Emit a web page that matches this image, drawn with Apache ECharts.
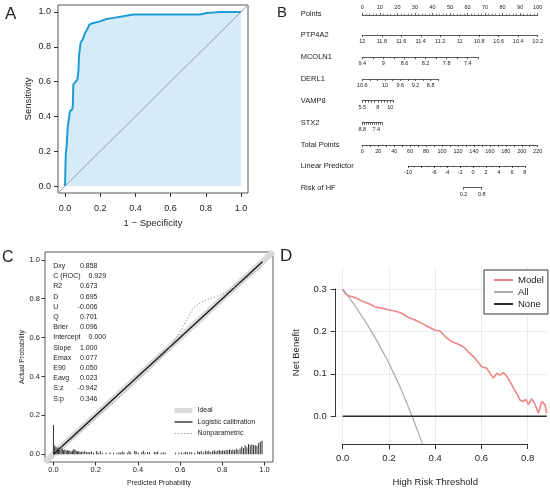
<!DOCTYPE html>
<html>
<head>
<meta charset="utf-8">
<script src="https://cdn.jsdelivr.net/npm/echarts@6/dist/echarts.min.js"></script>
<style>
html, body { margin: 0; padding: 0; background: #fff; }
#main { width: 550px; height: 490px; }
</style>
</head>
<body>
<div id="main"></div>
<script>
// ---------- A: ROC curve ----------
var rocFpr = [0, 0.004, 0.009, 0.015, 0.025, 0.028, 0.040, 0.044, 0.047, 0.057, 0.070, 0.076, 0.080, 0.085, 0.089, 0.100,
              0.114, 0.127, 0.138, 0.161, 0.199, 0.237, 0.275, 0.331, 0.388, 0.767, 0.805, 0.881, 1.0];
var rocTpr = [0, 0.182, 0.229, 0.335, 0.335, 0.430, 0.440, 0.459, 0.583, 0.593, 0.612, 0.660, 0.755, 0.765, 0.826, 0.841,
              0.880, 0.902, 0.927, 0.937, 0.946, 0.960, 0.966, 0.975, 0.985, 0.985, 0.994, 1.0, 1.0];
var rocDiag = [-0.04, 1.04];
var aucText = 'AUC=0.929 (95% CI: 0.900\u22120.958)';

// ---------- B: nomogram ----------
var nomoNames = ['Points', 'PTP4A2', 'MCOLN1', 'DERL1', 'VAMP8', 'STX2', 'Total Points', 'Linear Predictor', 'Risk of HF'];
var nomoFrom = [0, 12, 9.4, 10.6, 5.5, 8.8, 0, -10, 0.2];      // value at left end
var nomoTo = [100, 10.2, 7.2, 8.6, 10.5, 6.8, 220, 8, 0.8];     // value at right end
var nomoStep = [10, 0.2, 0.2, 0.2, 0.5, 0.2, 10, 2, null];
var nomoMinor = [5, 1, 1, 1, 1, 1, 2, 2, 1];
var nomoLabels = [
    [0, 10, 20, 30, 40, 50, 60, 70, 80, 90, 100],
    [12, 11.8, 11.6, 11.4, 11.2, 11, 10.8, 10.6, 10.4, 10.2],
    [9.4, 9, 8.6, 8.2, 7.8, 7.4],
    [10.6, 10, 9.6, 9.2, 8.8],
    [5.5, 8, 10],
    [8.8, 7.4],
    [0, 20, 40, 60, 80, 100, 120, 140, 160, 180, 200, 220],
    [-10, -6, -4, -2, 0, 2, 4, 6, 8],
    [0.2, 0.8]
];
// where each scale starts / ends on the 0-100 Points scale
var nomoStartPts = [0, 0, 0, 0, 0, 0, 0, 26.2, 57.7];
var nomoEndPts = [100, 100, 66.1, 43.3, 17.7, 11.4, 100, 92.7, 68.1];

// ---------- C: calibration ----------
var calStatNames = ['Dxy', 'C (ROC)', 'R2', 'D', 'U', 'Q', 'Brier', 'Intercept', 'Slope', 'Emax', 'E90', 'Eavg', 'S:z', 'S:p'];
var calStatValues = ['0.858', '0.929', '0.673', '0.695', '-0.006', '0.701', '0.096', '0.000', '1.000', '0.077', '0.050', '0.023', '-0.942', '0.346'];
var idealLine = [-0.04, 1.04];
var logitX = [0, 0.99];
var logitY = [0, 0.99];
var npX = [0.01, 0.05, 0.10, 0.15, 0.20, 0.25, 0.30, 0.35, 0.40, 0.45, 0.50, 0.54, 0.58, 0.62, 0.66, 0.70, 0.74, 0.78, 0.82, 0.86, 0.90, 0.94, 0.97, 0.99];
var npY = [0.015, 0.045, 0.090, 0.138, 0.185, 0.233, 0.280, 0.330, 0.380, 0.432, 0.488, 0.535, 0.595, 0.668, 0.750, 0.782, 0.800, 0.815, 0.835, 0.860, 0.893, 0.925, 0.950, 0.966];
var riskX = [0.000, 0.006, 0.012, 0.018, 0.024, 0.030, 0.036, 0.042, 0.048, 0.054, 0.060, 0.066, 0.072, 0.078, 0.084, 0.090,
             0.096, 0.102, 0.108, 0.114, 0.120, 0.126, 0.132, 0.140, 0.148, 0.156, 0.164, 0.172, 0.180, 0.190,
             0.205, 0.212, 0.222, 0.232, 0.250, 0.268, 0.285, 0.300, 0.310, 0.318, 0.326, 0.334, 0.350, 0.358, 0.366,
             0.385, 0.392, 0.402, 0.418, 0.426, 0.434, 0.446, 0.455, 0.478, 0.486, 0.494, 0.510, 0.520, 0.530,
             0.578, 0.594, 0.606, 0.618, 0.626, 0.634, 0.646, 0.655, 0.670, 0.684, 0.692, 0.700, 0.710, 0.720, 0.728,
             0.736, 0.745, 0.754, 0.762, 0.770, 0.778, 0.786, 0.794, 0.802, 0.810, 0.818, 0.826, 0.834, 0.842, 0.850,
             0.858, 0.866, 0.874, 0.884, 0.892, 0.900, 0.908, 0.916, 0.924, 0.932, 0.940, 0.948, 0.956, 0.964, 0.972,
             0.980, 0.988];
var riskH = [0.150, 0.045, 0.038, 0.030, 0.034, 0.022, 0.026, 0.030, 0.020, 0.024, 0.018, 0.022, 0.016, 0.020, 0.014, 0.018,
             0.026, 0.024, 0.018, 0.014, 0.016, 0.012, 0.014, 0.012, 0.016, 0.010, 0.012, 0.010, 0.014, 0.008,
             0.016, 0.008, 0.016, 0.008, 0.008, 0.010, 0.008, 0.006, 0.010, 0.008, 0.014, 0.010, 0.008, 0.016, 0.010,
             0.018, 0.014, 0.008, 0.010, 0.018, 0.008, 0.012, 0.010, 0.012, 0.010, 0.014, 0.008, 0.010, 0.008,
             0.008, 0.008, 0.010, 0.008, 0.012, 0.010, 0.012, 0.010, 0.008, 0.016, 0.012, 0.016, 0.010, 0.018, 0.014,
             0.018, 0.012, 0.016, 0.020, 0.014, 0.018, 0.022, 0.016, 0.020, 0.018, 0.022, 0.020, 0.026, 0.020, 0.024,
             0.020, 0.028, 0.024, 0.030, 0.040, 0.032, 0.046, 0.036, 0.052, 0.046, 0.050, 0.048, 0.046, 0.044, 0.058,
             0.064, 0.070];

// ---------- D: decision curve ----------
var dcaX = [0, 0.010, 0.025, 0.053, 0.082, 0.111, 0.140, 0.169, 0.197, 0.226, 0.255, 0.284, 0.313, 0.342, 0.370, 0.399,
            0.421, 0.443, 0.471, 0.500, 0.522, 0.543, 0.572, 0.601, 0.623, 0.637, 0.652, 0.666, 0.680, 0.695, 0.709,
            0.731, 0.752, 0.767, 0.781, 0.791, 0.803, 0.817, 0.832, 0.846, 0.861, 0.875, 0.882];
var dcaModel = [0.300, 0.290, 0.284, 0.280, 0.272, 0.266, 0.258, 0.255, 0.251, 0.248, 0.243, 0.233, 0.227, 0.219, 0.211, 0.203,
                0.201, 0.188, 0.176, 0.170, 0.164, 0.152, 0.137, 0.117, 0.113, 0.101, 0.090, 0.101, 0.097, 0.103, 0.095,
                0.074, 0.054, 0.038, 0.035, 0.040, 0.028, 0.041, 0.028, 0.007, 0.035, 0.027, 0.007];
var allX = [0, 0.05, 0.10, 0.15, 0.20, 0.25, 0.30, 0.345];
var allY = [0.300, 0.263, 0.222, 0.176, 0.125, 0.067, 0.000, -0.065];
var noneX = [0, 0.882];
var noneY = [0, 0];

var FONT = '"Liberation Sans", Arial, Helvetica, sans-serif';
var INK = '#222';
var DOTS = [1.2, 2];

var grids = [], xAxes = [], yAxes = [], series = [], texts = [];

function zip(a, b) {
    var out = [];
    for (var i = 0; i < a.length; i++) out.push([a[i], b[i]]);
    return out;
}
function fmt1(v) { return v.toFixed(1); }
function hidden(min, max) { return {type: 'value', show: false, min: min, max: max}; }
function addGrid(g, x, y) {
    var i = grids.length;
    g.outerBoundsMode = 'none';
    grids.push(g);
    x.gridIndex = i; y.gridIndex = i;
    xAxes.push(x); yAxes.push(y);
    return i;
}
function tickAxis(o) {
    // a visible axis in R style: ticks outward, plain labels
    var a = {
        type: 'value', min: o.min, max: o.max, interval: o.interval, position: o.position,
        axisLine: {show: !!o.line, lineStyle: {color: '#333', width: 1}},
        axisTick: {show: true, length: o.tick, lineStyle: {color: '#333', width: 1}},
        axisLabel: {show: true, margin: o.margin, fontSize: o.fontSize, color: INK, fontFamily: FONT, formatter: fmt1},
        splitLine: {show: !!o.split, lineStyle: {color: '#ebebeb', width: 1}}
    };
    if (o.name) {
        a.name = o.name; a.nameLocation = 'middle'; a.nameGap = o.nameGap;
        a.nameTextStyle = {fontSize: o.nameSize, color: INK, fontFamily: FONT};
        if (o.position === 'left') a.nameRotate = 90;
    }
    return a;
}
function text(x, y, s, size, align) {
    texts.push({type: 'text', x: x, y: y, silent: true,
        style: {text: s, fontSize: size, fontFamily: FONT, fill: INK, align: align || 'left', verticalAlign: 'middle'}});
}
function lineSeries(name, grid, data, color, width, type, z) {
    return {name: name, type: 'line', xAxisIndex: grid, yAxisIndex: grid, data: data,
        symbol: 'none', showSymbol: false, color: color,
        lineStyle: {color: color, width: width, type: type || 'solid'}, z: z};
}

// ===== Panel A =====
var gA = addGrid({left: 58, top: 5, width: 190, height: 188, show: true, borderColor: '#555', borderWidth: 1},
    hidden(-0.04, 1.04), hidden(-0.04, 1.04));
addGrid({left: 65.04, top: 192, width: 175.93, height: 1},
    tickAxis({min: 0, max: 1, interval: 0.2, position: 'bottom', tick: 4, margin: 11, fontSize: 9,
        name: '1 \u2212 Specificity', nameGap: 25, nameSize: 9.5}), hidden(0, 1));
addGrid({left: 58, top: 11.96, width: 1, height: 174.07},
    hidden(0, 1),
    tickAxis({min: 0, max: 1, interval: 0.2, position: 'left', tick: 4, margin: 7, fontSize: 9,
        name: 'Sensitivity', nameGap: 25, nameSize: 9.5}));
var roc = lineSeries('ROC', gA, zip(rocFpr, rocTpr), '#1f9bd7', 2, 'solid', 2);
roc.areaStyle = {color: '#d6ebf8', opacity: 1};
series.push(roc);
series.push(lineSeries('Reference', gA, zip(rocDiag, rocDiag), '#9a9a9a', 1, 'solid', 3));
text(232, 179, aucText, 8.5, 'right');
text(5, 14, 'A', 17);

// ===== Panel B =====
var NOMO_X0 = 362.3, NOMO_PX = 1.754;
var nomoRowY = [14, 35, 57.3, 79, 100.7, 122.7, 145, 166, 187.7];
for (var i = 0; i < nomoNames.length; i++) {
    var ax = {
        type: 'value', min: Math.min(nomoFrom[i], nomoTo[i]), max: Math.max(nomoFrom[i], nomoTo[i]),
        inverse: nomoFrom[i] > nomoTo[i], position: i === 0 ? 'top' : 'bottom',
        axisLine: {show: true, lineStyle: {color: '#333', width: 0.8}},
        axisTick: {show: true, length: 2, lineStyle: {color: '#333', width: 0.8}},
        axisLabel: {show: true, customValues: nomoLabels[i], margin: 3.5, fontSize: 5.5, color: INK, fontFamily: FONT},
        splitLine: {show: false}
    };
    if (nomoStep[i]) {
        ax.interval = nomoStep[i];
        if (nomoMinor[i] > 1) {
            ax.minorTick = {show: true, splitNumber: nomoMinor[i], length: 1.3, lineStyle: {color: '#333', width: 0.6}};
        }
    } else {
        ax.axisTick.customValues = nomoLabels[i];
    }
    addGrid({
        left: NOMO_X0 + nomoStartPts[i] * NOMO_PX,
        width: (nomoEndPts[i] - nomoStartPts[i]) * NOMO_PX,
        top: i === 0 ? nomoRowY[i] : nomoRowY[i] - 1, height: 1
    }, ax, hidden(0, 1));
    text(300.7, nomoRowY[i], nomoNames[i], 7.5);
}
text(277, 13, 'B', 15);

// ===== Panel C =====
var gC = addGrid({left: 45, top: 252, width: 228, height: 210, show: true, borderColor: '#333', borderWidth: 0.8},
    hidden(-0.04, 1.04), hidden(-0.04, 1.04));
addGrid({left: 53.44, top: 461, width: 211.1, height: 1},
    tickAxis({min: 0, max: 1, interval: 0.2, position: 'bottom', tick: 3.5, margin: 4, fontSize: 7.5,
        name: 'Predicted Probability', nameGap: 18, nameSize: 7}), hidden(0, 1));
addGrid({left: 45, top: 259.78, width: 1, height: 194.44},
    hidden(0, 1),
    tickAxis({min: 0, max: 1, interval: 0.2, position: 'left', tick: 3.5, margin: 5, fontSize: 7.5,
        name: 'Actual Probability', nameGap: 19, nameSize: 7}));
series.push(lineSeries('Ideal', gC, zip(idealLine, idealLine), '#d9d9d9', 6, 'solid', 1));
series.push({type: 'bar', xAxisIndex: gC, yAxisIndex: gC, data: zip(riskX, riskH), barWidth: 1,
    itemStyle: {color: '#333'}, z: 2});
series.push(lineSeries('Logistic calibration', gC, zip(logitX, logitY), '#111111', 1.2, 'solid', 3));
series.push(lineSeries('Nonparametric', gC, zip(npX, npY), '#888888', 1, DOTS, 3));

// stats block, values placed after their label like R's padded text
var ctx = document.createElement('canvas').getContext('2d');
ctx.font = '7px ' + FONT;
for (var s = 0; s < calStatNames.length; s++) {
    var yS = 266 + s * 10.2;
    var right = Math.max(97.5, 53.3 + ctx.measureText(calStatNames[s]).width + 8 + ctx.measureText(calStatValues[s]).width);
    text(53.3, yS, calStatNames[s], 7);
    text(right, yS, calStatValues[s], 7, 'right');
}
text(2, 258, 'C', 16);

// ===== Panel D =====
var gD = addGrid({left: 335.7, top: 266.7, width: 211, height: 177.3},
    hidden(-0.0303, 0.882), hidden(-0.0653, 0.3526));
addGrid({left: 342.7, top: 266.7, width: 185, height: 177.3},
    tickAxis({min: 0, max: 0.8, interval: 0.2, position: 'bottom', line: true, split: true, tick: 5, margin: 9,
        fontSize: 9.5, name: 'High Risk Threshold', nameGap: 33, nameSize: 9.5}), hidden(0, 1));
addGrid({left: 335.7, top: 289, width: 211, height: 127.3},
    hidden(0, 1),
    tickAxis({min: 0, max: 0.3, interval: 0.1, position: 'left', line: true, split: true, tick: 5, margin: 9,
        fontSize: 9.5, name: 'Net Benefit', nameGap: 34, nameSize: 9.5}));
series.push(lineSeries('Model', gD, zip(dcaX, dcaModel), '#ef8585', 1.6, 'solid', 3));
series.push(lineSeries('All', gD, zip(allX, allY), '#aaaaaa', 1.2, 'solid', 3));
series.push(lineSeries('None', gD, zip(noneX, noneY), '#2a2a2a', 1.5, 'solid', 3));
text(280, 256, 'D', 17);

var legendCommon = {orient: 'vertical', selectedMode: false, itemStyle: {opacity: 0}};
var chart = echarts.init(document.getElementById('main'), null, {renderer: 'canvas'});
chart.setOption({
    animation: false,
    backgroundColor: '#fff',
    grid: grids,
    xAxis: xAxes,
    yAxis: yAxes,
    legend: [
        echarts.util.extend({
            data: [
                {name: 'Ideal', lineStyle: {width: 5, color: '#d9d9d9'}},
                {name: 'Logistic calibration', lineStyle: {width: 1.2, color: '#111111'}},
                {name: 'Nonparametric', lineStyle: {width: 1, color: '#888888', type: DOTS}}
            ],
            left: 172, top: 407, padding: 0,
            itemWidth: 18, itemHeight: 6, itemGap: 4.5,
            textStyle: {fontSize: 7, color: INK, fontFamily: FONT}
        }, legendCommon),
        echarts.util.extend({
            data: ['Model', 'All', 'None'],
            left: 484, top: 270, padding: [5, 4, 5, 9],
            itemWidth: 19, itemHeight: 8, itemGap: 2,
            backgroundColor: '#fff', borderColor: '#333', borderWidth: 1,
            textStyle: {fontSize: 9.5, color: INK, fontFamily: FONT}
        }, legendCommon)
    ],
    graphic: {elements: texts},
    series: series
});
</script>
</body>
</html>
